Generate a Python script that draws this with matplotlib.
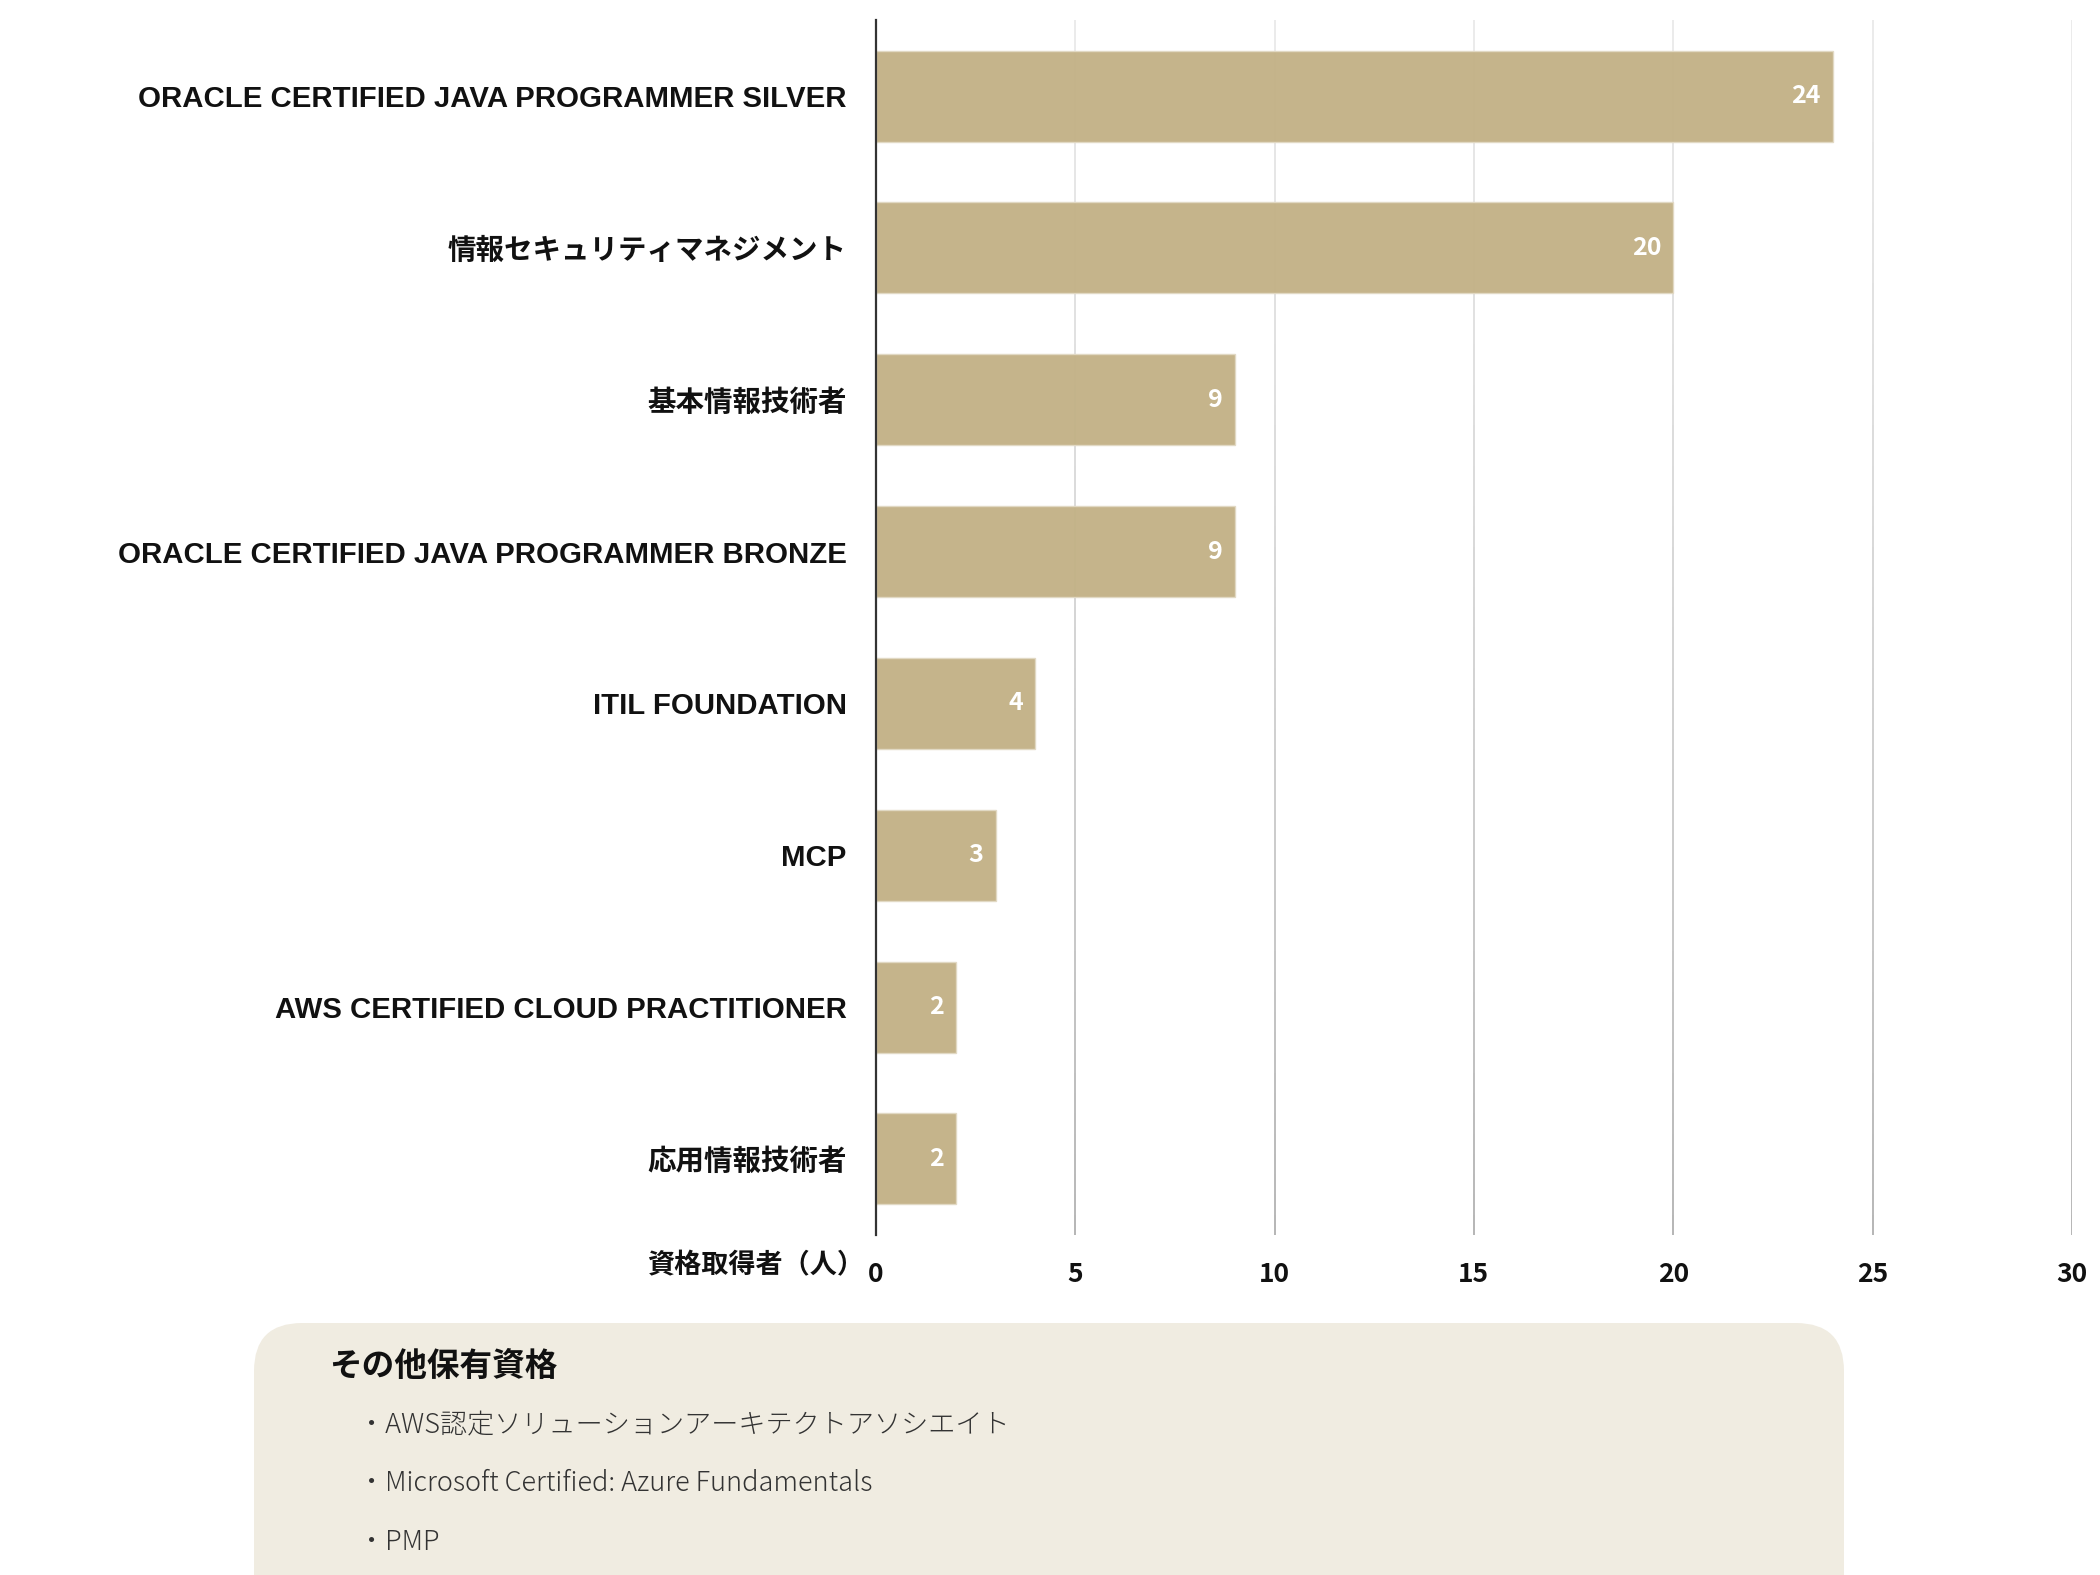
import numpy as np
import matplotlib
matplotlib.use("Agg")
import matplotlib.pyplot as plt
from matplotlib.collections import LineCollection
from matplotlib.patches import FancyBboxPatch

CJK = ['Noto Sans CJK JP', 'DejaVu Sans']
LAT = ['Liberation Sans', 'Noto Sans CJK JP', 'DejaVu Sans']
plt.rcParams['font.family'] = CJK

categories = [
    "ORACLE CERTIFIED JAVA PROGRAMMER SILVER",
    "情報セキュリティマネジメント",
    "基本情報技術者",
    "ORACLE CERTIFIED JAVA PROGRAMMER BRONZE",
    "ITIL FOUNDATION",
    "MCP",
    "AWS CERTIFIED CLOUD PRACTITIONER",
    "応用情報技術者",
]
counts = [24, 20, 9, 9, 4, 3, 2, 2]
x_ticks = [0, 5, 10, 15, 20, 25, 30]
x_label = "資格取得者（人）"
other_title = "その他保有資格"
other_items = [
    "・AWS認定ソリューションアーキテクトアソシエイト",
    "・Microsoft Certified: Azure Fundamentals",
    "・PMP",
]

BAR = "#C3B287"
W, H = 2100, 1575
fig = plt.figure(figsize=(21, 15.75), dpi=100)
fig.patch.set_facecolor("white")

ax = fig.add_axes([0.4171, 0.216, 0.9866 - 0.4171, 0.9872 - 0.216])
y = np.arange(len(categories))
ax.set_xlim(0, 30)
ax.set_ylim(len(categories) - 0.5, -0.5)

# gradient gridlines (light at top, darker at bottom)
nseg = 60
fr = np.linspace(0, 1, nseg + 1)
for t in x_ticks[1:]:
    segs = [[(t, fr[i]), (t, fr[i + 1])] for i in range(nseg)]
    cols = [plt.cm.Greys(0.17 + 0.27 * (1 - (fr[i] + fr[i + 1]) / 2)) for i in range(nseg)]
    lc = LineCollection(segs, colors=cols, linewidths=1.2,
                        transform=ax.get_xaxis_transform(), zorder=1)
    ax.add_collection(lc)

ax.barh(y, counts, height=0.6, color=BAR, edgecolor="#E2D9C4", linewidth=1.0,
        alpha=0.97, zorder=2)
for yi, v in zip(y, counts):
    ax.text(v - 0.3, yi, str(v), ha="right", va="center", color="white",
            fontsize=18, fontweight="bold", zorder=3)

ax.set_yticks(y)
ax.set_yticklabels(categories, color="#111111")
for lbl in ax.get_yticklabels():
    txt = lbl.get_text()
    if txt.isascii():
        lbl.set_family(LAT)
        lbl.set_fontsize(21.2)
    else:
        lbl.set_family(CJK)
        lbl.set_fontsize(20.5)
    lbl.set_fontweight("bold")
ax.set_xticks(x_ticks)
ax.set_xticklabels([str(t) for t in x_ticks], fontsize=19, fontweight="bold", color="#111111")
ax.tick_params(axis="y", length=0, pad=21)
ax.tick_params(axis="x", length=0, pad=19)
for s in ["top", "right", "bottom"]:
    ax.spines[s].set_visible(False)
ax.spines["left"].set_color("#333333")
ax.spines["left"].set_linewidth(1.6)
ax.spines["left"].set_zorder(4)

fig.text(645 / 1568, 1 - 945 / 1176, x_label, ha="right", va="center",
         fontsize=19.5, fontweight="bold", color="#111111")

# overlay in pixel coordinates for the info box
ov = fig.add_axes([0, 0, 1, 1], zorder=-1)
ov.set_xlim(0, W)
ov.set_ylim(H, 0)
ov.axis("off")
box = FancyBboxPatch((254, 1323), 1590, 400,
                     boxstyle="round,pad=0,rounding_size=48",
                     facecolor="#F0ECE1", edgecolor="none")
ov.add_patch(box)
ov.text(246 * W / 1568, 1020 * H / 1176, other_title, ha="left", va="center",
        fontsize=23.5, fontweight="bold", color="#111111")
for i, item in enumerate(other_items):
    ov.text(267 * W / 1568, (1064 + 43.5 * i) * H / 1176, item, ha="left", va="center",
            fontsize=19.5, fontweight="light", family=CJK, color="#333333")

fig.savefig("out.png", dpi=100)
